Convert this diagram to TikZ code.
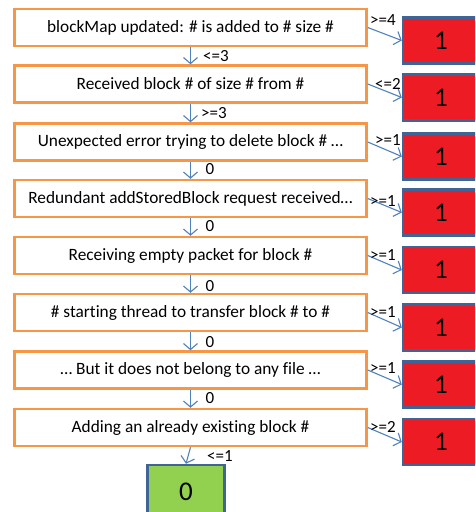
\documentclass[tikz,border=0pt]{standalone}
\usepackage{fontspec}
\setmainfont{Carlito}[Ligatures=NoCommon]
\usetikzlibrary{arrows.meta}
\definecolor{orangeB}{HTML}{F79646}
\definecolor{blueB}{HTML}{3F6495}
\definecolor{redF}{HTML}{ED1C24}
\definecolor{greenF}{HTML}{92D050}
\definecolor{arrowC}{HTML}{4F81BD}
\begin{document}
\begin{tikzpicture}[x=1pt,y=-1pt,
  msg/.style={draw=orangeB,line width=2.5pt,fill=white,minimum width=352pt,minimum height=37pt,inner sep=0pt,font=\fontsize{17.3}{20}\selectfont},
  redbox/.style={draw=blueB,line width=2.5pt,fill=redF,minimum width=76pt,minimum height=46pt,inner sep=0pt,font=\fontsize{27}{30}\selectfont},
  greenbox/.style={draw=blueB,line width=2.5pt,fill=greenF,minimum width=77pt,minimum height=54pt,inner sep=0pt,font=\fontsize{27}{30}\selectfont},
  conn/.style={draw=arrowC,line width=1.1pt,-{Straight Barb[length=6pt,width=14pt]}},
  lbl/.style={font=\fontsize{17}{20}\selectfont,inner sep=0pt}]
\useasboundingbox (0,0) rectangle (475,512);
\clip (0,0) rectangle (475,512);
% orange message boxes
\node[msg] (m1) at (190.5,27.5) {blockMap updated: \# is added to \# size \#};
\node[msg] (m2) at (190.5,84) {Received block \# of size \# from \#};
\node[msg] (m3) at (190.5,142) {Unexpected error trying to delete block \# …};
\node[msg] (m4) at (190.5,198.5) {Redundant addStoredBlock request received…};
\node[msg] (m5) at (190.5,255.5) {Receiving empty packet for block \#};
\node[msg] (m6) at (190.5,312.5) {\# starting thread to transfer block \# to \#};
\node[msg] (m7) at (190.5,370) {… But it does not belong to any file …};
\node[msg] (m8) at (190.5,427.5) {Adding an already existing block \#};
% red result boxes
\node[redbox] (r1) at (441,40.5) {1};
\node[redbox] (r2) at (441,97.5) {1};
\node[redbox] (r3) at (441,156.5) {1};
\node[redbox] (r4) at (441,212.5) {1};
\node[redbox] (r5) at (441,270) {1};
\node[redbox] (r6) at (441,327.5) {1};
\node[redbox] (r7) at (441,384.5) {1};
\node[redbox] (r8) at (441,442) {1};
% green box
\node[greenbox] (g) at (186,492) {0};
% vertical connectors
\draw[conn] (m1.south) -- (m2.north);
\draw[conn] (m2.south) -- (m3.north);
\draw[conn] (m3.south) -- (m4.north);
\draw[conn] (m4.south) -- (m5.north);
\draw[conn] (m5.south) -- (m6.north);
\draw[conn] (m6.south) -- (m7.north);
\draw[conn] (m7.south) -- (m8.north);
\draw[conn] (m8.south) -- (g.north);
% horizontal connectors
\foreach \i in {1,...,8}{\draw[conn] (m\i.east) -- (r\i.west);}
% labels on vertical connectors
\node[lbl] (lv1) at (216,56) {<=3};
\node[lbl] (lv2) at (214,113) {>=3};
\node[lbl] (lv3) at (210,169) {0};
\node[lbl] (lv4) at (210,226) {0};
\node[lbl] (lv5) at (210,286) {0};
\node[lbl] (lv6) at (210,342) {0};
\node[lbl] (lv7) at (210,398) {0};
\node[lbl] (lv8) at (220,456) {<=1};
% labels on horizontal connectors
\node[lbl] (lh1) at (383,20) {>=4};
\node[lbl] (lh2) at (388,84) {<=2};
\node[lbl] (lh3) at (388,140) {>=1};
\node[lbl] (lh4) at (383,201) {>=1};
\node[lbl] (lh5) at (383,255) {>=1};
\node[lbl] (lh6) at (383,312) {>=1};
\node[lbl] (lh7) at (383,368) {>=1};
\node[lbl] (lh8) at (383,427) {>=2};
\end{tikzpicture}
\end{document}
